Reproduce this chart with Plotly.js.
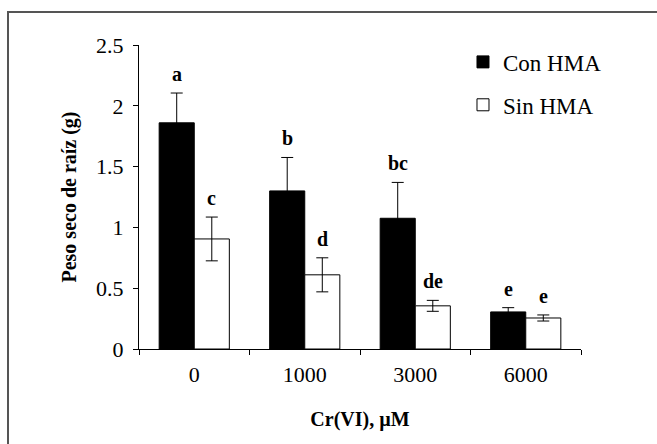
<!DOCTYPE html>
<html>
<head>
<meta charset="utf-8">
<script src="https://cdn.plot.ly/plotly-3.0.1.min.js"></script>
<style>html,body{margin:0;padding:0;background:#fff;}#chart{width:657px;height:444px;}</style>
</head>
<body>
<div id="chart"></div>
<script>
var categories = ['0', '1000', '3000', '6000'];
var conValues = [1.86, 1.30, 1.075, 0.305];
var conErrors = [0.245, 0.275, 0.295, 0.035];
var sinValues = [0.905, 0.61, 0.355, 0.255];
var sinErrors = [0.18, 0.14, 0.045, 0.025];
var conLetters = ['a', 'b', 'bc', 'e'];
var sinLetters = ['c', 'd', 'de', 'e'];
var seriesNames = ['Con HMA', 'Sin HMA'];

var FONT = 'Liberation Serif, Times New Roman, serif';

var traceCon = {
  type: 'bar', name: seriesNames[0], x: categories, y: conValues,
  marker: {color: '#000000', line: {color: '#000000', width: 1}},
  error_y: {type: 'data', array: conErrors, visible: true, color: '#000000', thickness: 1, width: 6},
  legendgroup: 'g1'
};
var traceSin = {
  type: 'bar', name: seriesNames[1], x: categories, y: sinValues,
  marker: {color: '#ffffff', line: {color: '#000000', width: 1}},
  error_y: {type: 'data', array: sinErrors, visible: true, color: '#000000', thickness: 1, width: 6},
  legendgroup: 'g2'
};

var annotations = [];
for (var i = 0; i < categories.length; i++) {
  annotations.push({x: i, y: conValues[i] + conErrors[i], xref: 'x', yref: 'y',
    text: '<b>' + conLetters[i] + '</b>', showarrow: false, xshift: -17.5, yanchor: 'bottom', yshift: 6,
    font: {family: FONT, size: 20, color: '#000'}});
  annotations.push({x: i, y: sinValues[i] + sinErrors[i], xref: 'x', yref: 'y',
    text: '<b>' + sinLetters[i] + '</b>', showarrow: false, xshift: 17.5, yanchor: 'bottom', yshift: 6,
    font: {family: FONT, size: 20, color: '#000'}});
}

var layout = {
  width: 657, height: 444,
  margin: {l: 139, r: 76, t: 45, b: 95},
  paper_bgcolor: '#ffffff', plot_bgcolor: '#ffffff',
  barmode: 'group', bargap: 0.365, bargroupgap: 0,
  font: {family: FONT, size: 22, color: '#000'},
  showlegend: true,
  legend: {x: 0.733, y: 1.015, xanchor: 'left', yanchor: 'top', bgcolor: 'rgba(0,0,0,0)',
    font: {family: FONT, size: 23, color: '#000'}, traceorder: 'grouped', tracegroupgap: 10,
    itemwidth: 30},
  xaxis: {
    type: 'category', range: [-0.5, 3.5], showline: true, linecolor: '#000', linewidth: 1,
    ticks: 'outside', tickson: 'boundaries', ticklen: 5, tickcolor: '#000', showgrid: false,
    zeroline: false, tickfont: {family: FONT, size: 22}, ticklabelstandoff: 6,
    title: {text: '<b>Cr(VI), µM</b>', font: {family: FONT, size: 20}, standoff: 25}
  },
  yaxis: {
    range: [0, 2.5], dtick: 0.5, showline: true, linecolor: '#000', linewidth: 1,
    ticks: 'outside', ticklen: 5, tickcolor: '#000', showgrid: false, zeroline: false,
    tickfont: {family: FONT, size: 22}, ticklabelstandoff: 5,
    title: {text: '<b>Peso seco de raíz (g)</b>', font: {family: FONT, size: 20}, standoff: 14}
  },
  annotations: annotations,
  shapes: [{type: 'rect', xref: 'paper', yref: 'paper',
    x0: (8 - 139) / 442, x1: (660 - 139) / 442, y0: (349 - 448) / 304, y1: (349 - 12) / 304,
    line: {color: '#555555', width: 2}, fillcolor: 'rgba(0,0,0,0)', layer: 'below'}]
};

Plotly.newPlot('chart', [traceCon, traceSin], layout, {displayModeBar: false, staticPlot: true});
</script>
</body>
</html>
